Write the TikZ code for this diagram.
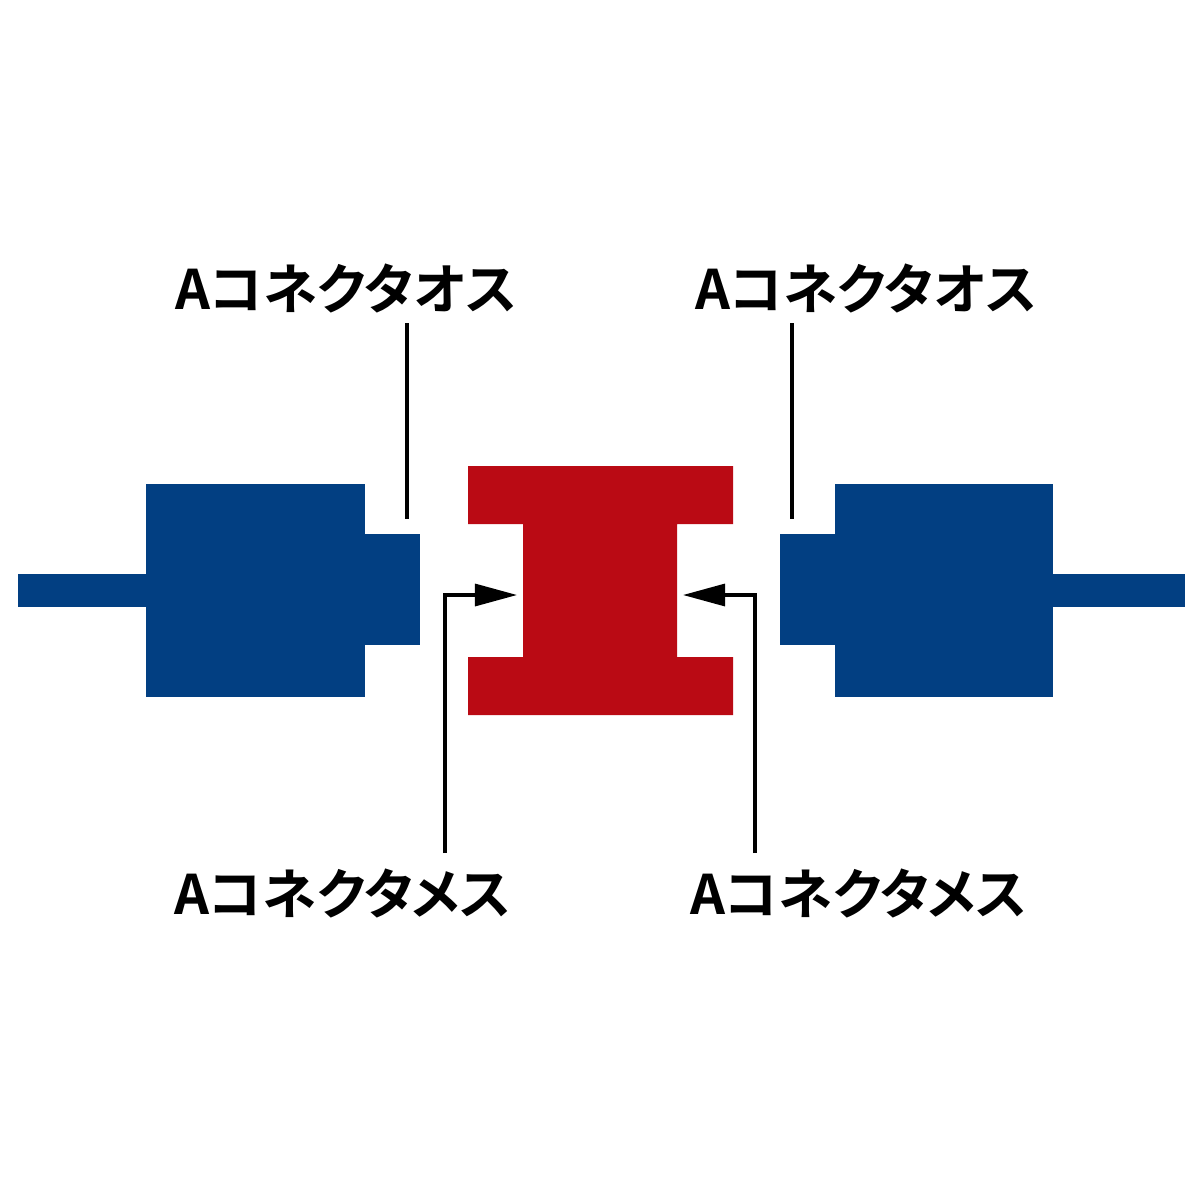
\documentclass[tikz,border=0pt]{standalone}
\usepackage{fontspec}
\newfontfamily\jpfont{Noto Sans CJK JP}[BoldFont={Noto Sans CJK JP Bold}, RawFeature=+palt]
\usetikzlibrary{arrows.meta}
\definecolor{plugblue}{HTML}{023F82}
\definecolor{adaptred}{HTML}{BA0A14}
\tikzset{
    lbl/.style = {font=\jpfont\bfseries\fontsize{15.5pt}{15.5pt}\selectfont, inner sep=0pt},
    leader/.style = {line width=0.9pt},
    pointer/.style = {line width=0.9pt, -{Triangle[length=4.2mm, width=2.2mm]}}
}
\begin{document}
\begin{tikzpicture}[x = 0.01cm, y = -0.01cm]
    \useasboundingbox (0, 0) rectangle (1200, 1200);
    % left plug
    \fill [plugblue] (18, 574) rectangle (146, 607);
    \fill [plugblue] (146, 484) rectangle (365, 697);
    \fill [plugblue] (365, 534) rectangle (420, 645);
    % right plug
    \fill [plugblue] (1053, 574) rectangle (1185, 607);
    \fill [plugblue] (835, 484) rectangle (1053, 697);
    \fill [plugblue] (780, 534) rectangle (835, 645);
    % adapter
    \fill [adaptred] (468, 466) -- (733, 466) -- (733, 524) -- (677, 524)
        -- (677, 657) -- (733, 657) -- (733, 715) -- (468, 715)
        -- (468, 657) -- (523, 657) -- (523, 524) -- (468, 524) -- cycle;

    \node [lbl] (osuL) at (346, 288) {Aコネクタオス};
    \node [lbl] (osuR) at (866, 288) {Aコネクタオス};
    \node [lbl] (mesuL) at (343, 893) {Aコネクタメス};
    \node [lbl] (mesuR) at (859, 893) {Aコネクタメス};

    \coordinate (osuLtop) at (407, 323);
    \coordinate (osuLend) at (407, 519);
    \coordinate (osuRtop) at (792, 323);
    \coordinate (osuRend) at (792, 519);
    \coordinate (mesuLfoot) at (445, 853);
    \coordinate (mesuLtip) at (517, 595);
    \coordinate (mesuRfoot) at (755, 853);
    \coordinate (mesuRtip) at (683, 595);

    \draw [leader] (osuLtop) -- (osuLend);
    \draw [leader] (osuRtop) -- (osuRend);
    \draw [pointer] (mesuLfoot) |- (mesuLtip);
    \draw [pointer] (mesuRfoot) |- (mesuRtip);
\end{tikzpicture}
\end{document}
